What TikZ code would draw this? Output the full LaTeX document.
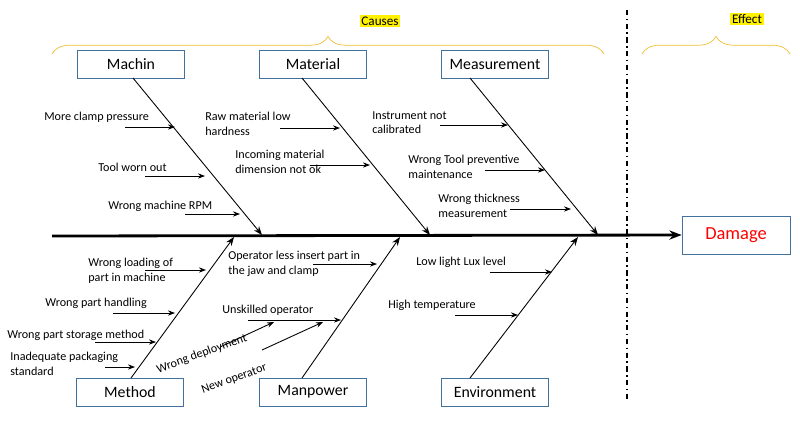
\documentclass[tikz,border=0pt]{standalone}
\usepackage{fontspec}
\setmainfont{Carlito}
\usepackage{xcolor}
\usetikzlibrary{arrows.meta,decorations.pathreplacing}
\definecolor{boxblue}{RGB}{65,113,156}
\definecolor{bracegold}{RGB}{240,190,50}

\begin{document}
\begin{tikzpicture}[x=0.02cm,y=-0.02cm,
  cat/.style={draw=boxblue, minimum width=2.14cm, minimum height=0.56cm, font=\fontsize{9}{10}\selectfont},
  lbl/.style={anchor=north west, inner sep=0, align=left, font=\fontsize{6.9}{8.4}\selectfont},
  bone/.style={line width=0.5pt, -{Stealth[length=5pt]}},
  sub/.style={line width=0.5pt, -{Stealth[length=4pt]}}]
\useasboundingbox (0,0) rectangle (800,424);

% spine and effect
\node[draw=boxblue, minimum width=2.16cm, minimum height=0.76cm, text=red, font=\fontsize{10.5}{12}\selectfont] (damage) at (736,235) {Damage};
\coordinate (tail) at (52,236);
\draw[line width=1.6pt, -{Stealth[length=7pt]}] (tail) -- (damage.west);
\draw[line width=0.8pt, dash dot] (627,10) -- (627,400);

% braces
\draw[bracegold, decorate, decoration={brace, amplitude=10pt}] (52,54) -- (604,54);
\draw[bracegold, decorate, decoration={brace, amplitude=10pt}] (642,54) -- (790,54);
\node[fill=yellow, inner sep=1pt, font=\fontsize{7.5}{9}\selectfont] (causes) at (380,21) {Causes};
\node[fill=yellow, inner sep=1pt, font=\fontsize{7.5}{9}\selectfont] (effect) at (747,19) {Effect};

% categories
\node[cat] (machin) at (131,64) {Machin};
\node[cat] (material) at (313,64) {Material};
\node[cat] (measure) at (495,64) {Measurement};
\node[cat] (method) at (130,392) {Method};
\node[cat] (manpower) at (313,392) {Manpower};
\node[cat] (environ) at (495,392) {Environment};

\coordinate (s1) at (133,78);
\coordinate (s2) at (302,78);
\coordinate (s3) at (470,78);
\coordinate (s4) at (131,378);
\coordinate (s5) at (302,378);
\coordinate (s6) at (470,378);
\coordinate (j1) at (262,235);
\coordinate (j2) at (430,235);
\coordinate (j3) at (598,235);
\coordinate (j4) at (234,237);
\coordinate (j5) at (400,237);
\coordinate (j6) at (578,237);
\draw[bone] (s1) -- (j1);
\draw[bone] (s2) -- (j2);
\draw[bone] (s3) -- (j3);
\draw[bone] (s4) -- (j4);
\draw[bone] (s5) -- (j5);
\draw[bone] (s6) -- (j6);

% causes
\node[lbl] at (44,112) {More clamp pressure};
\draw[sub] (125,127) -- (175,127);
\node[lbl] at (98,163) {Tool worn out};
\draw[sub] (145,176) -- (205,176);
\node[lbl] at (108,201) {Wrong machine RPM};
\draw[sub] (185,214) -- (240,214);

\node[lbl] at (205,112) {Raw material low\\hardness};
\draw[sub] (280,128) -- (340,128);
\node[lbl] at (235,150) {Incoming material\\dimension not ok};
\draw[sub] (310,165) -- (370,165);

\node[lbl] at (372,111) {Instrument not\\calibrated};
\draw[sub] (440,125) -- (508,125);
\node[lbl] at (408,155) {Wrong Tool preventive\\maintenance};
\draw[sub] (485,170) -- (545,170);
\node[lbl] at (438,194) {Wrong thickness\\measurement};
\draw[sub] (510,209) -- (571,209);

\node[lbl] at (88,258) {Wrong loading of\\part in machine};
\draw[sub] (145,270) -- (206,270);
\node[lbl] at (45,298) {Wrong part handling};
\draw[sub] (113,313) -- (175,313);
\node[lbl] at (7,330) {Wrong part storage method};
\draw[sub] (95,342) -- (156,342);
\node[lbl] at (10,352) {Inadequate packaging\\standard};
\draw[sub] (105,367) -- (135,367);

\node[lbl] at (228,251) {Operator less insert part in\\the jaw and clamp};
\draw[sub] (313,264) -- (377,264);
\node[lbl] at (222,305) {Unskilled operator};
\draw[sub] (248,320) -- (341,320);
\node[lbl, rotate=20] at (155,365) {Wrong deployment};
\draw[sub] (220,347) -- (274,322);
\node[lbl, rotate=20] at (200,386) {New operator};
\draw[sub] (262,350) -- (323,322);

\node[lbl] at (416,257) {Low light Lux level};
\draw[sub] (490,272) -- (552,272);
\node[lbl] at (388,300) {High temperature};
\draw[sub] (455,315) -- (518,315);
\end{tikzpicture}
\end{document}
